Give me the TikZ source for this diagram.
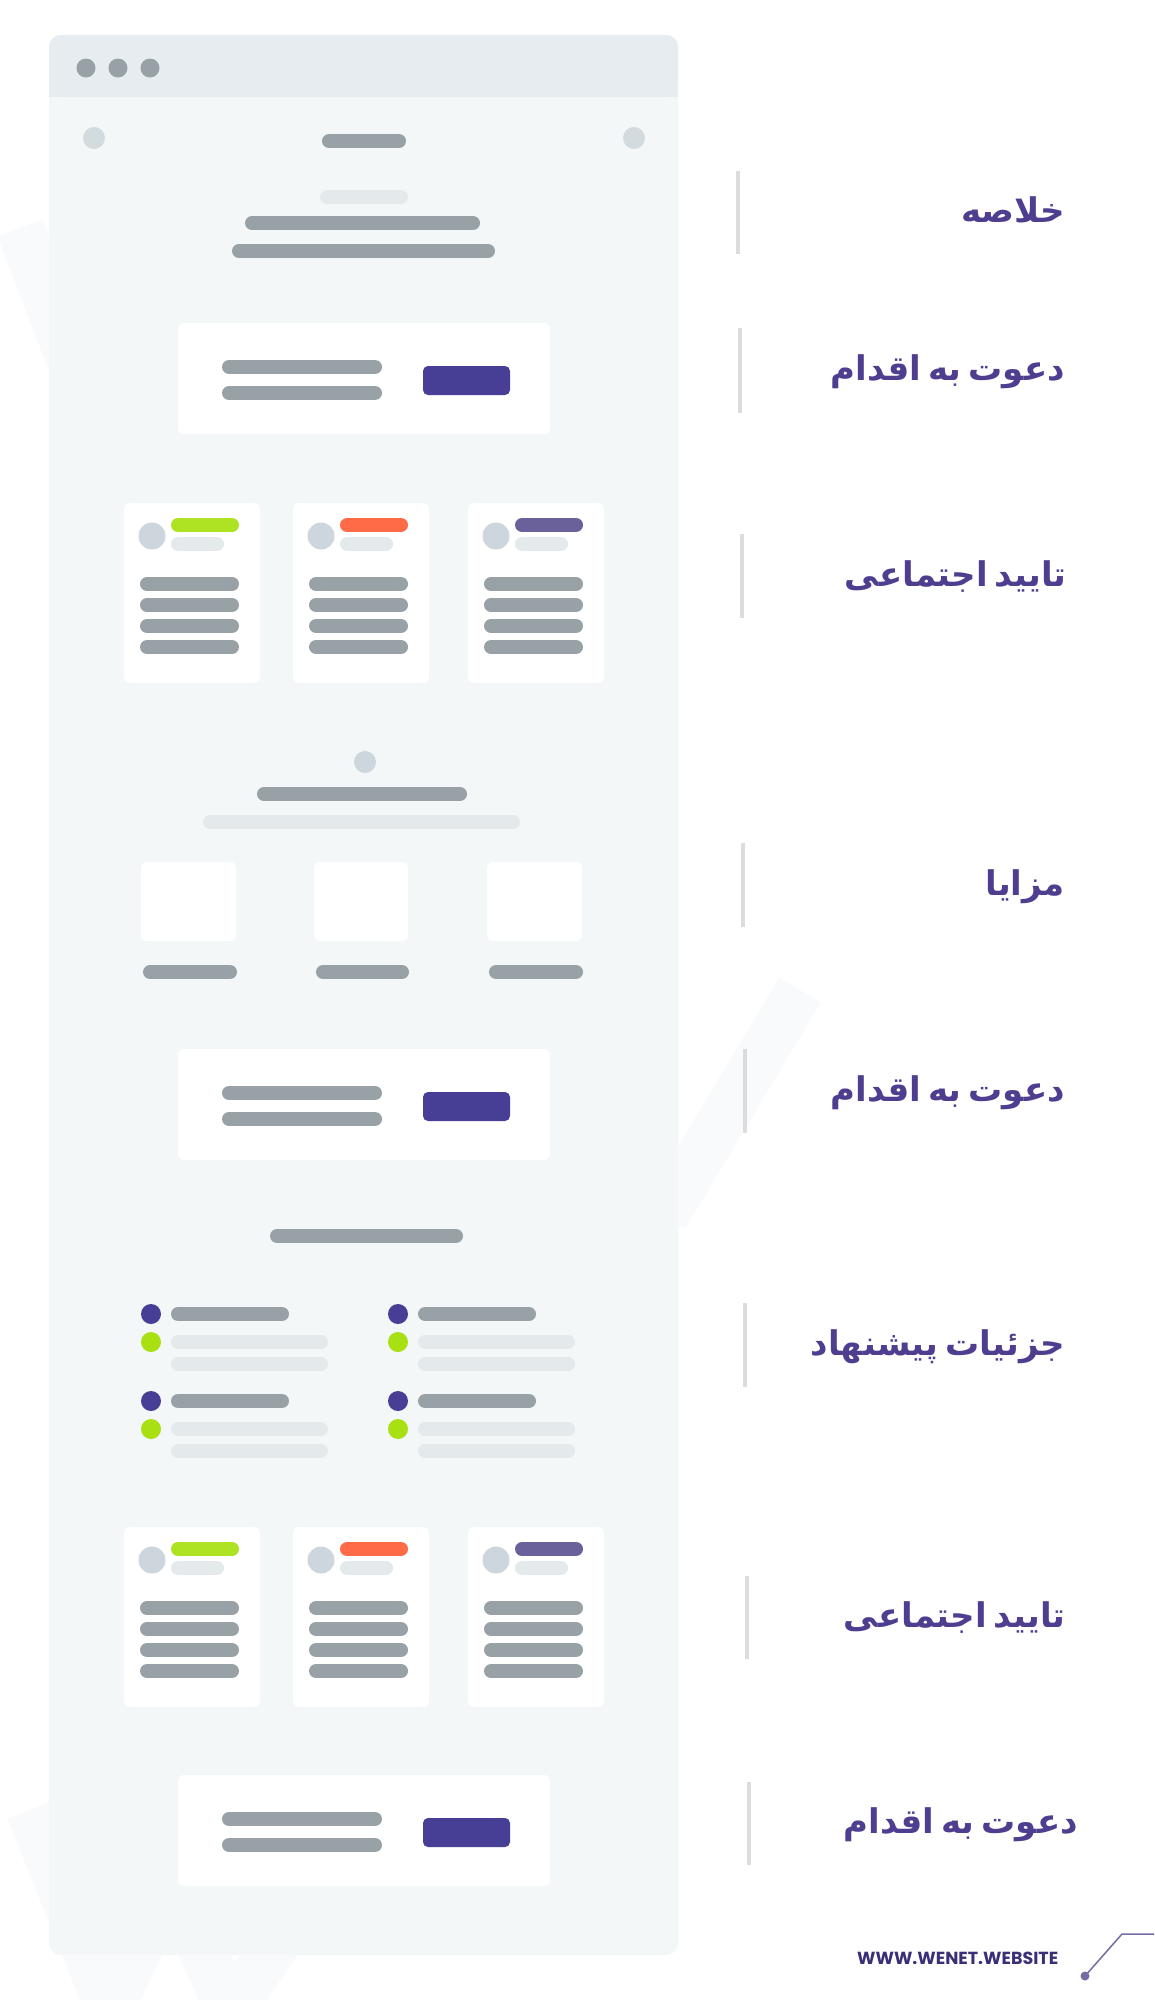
\documentclass[tikz,border=0pt]{standalone}
\usepackage{fontspec}
\TeXXeTstate=1
\newfontfamily\arabicfont[Script=Arabic,WordSpace=0.6]{DejaVu Sans}
\newfontfamily\popfont{Poppins}
\definecolor{winBg}{HTML}{F3F7F8}
\definecolor{winHead}{HTML}{E7ECF0}
\definecolor{barGrey}{HTML}{97A1A6}
\definecolor{barLight}{HTML}{E4E9EC}
\definecolor{avatarGrey}{HTML}{CDD6DD}
\definecolor{navGrey}{HTML}{D3DBDF}
\definecolor{btnPurple}{HTML}{473F96}
\definecolor{cGreen}{HTML}{ADE323}
\definecolor{cOrange}{HTML}{FF6B47}
\definecolor{cPurpleL}{HTML}{6A619B}
\definecolor{dotGreen}{HTML}{A8E011}
\definecolor{labPurple}{HTML}{4F3E8F}
\definecolor{sepGrey}{HTML}{DCDCDC}
\definecolor{logoPurple}{HTML}{3B2F78}
\definecolor{decoPurple}{HTML}{756CA6}
\definecolor{wmark}{HTML}{F9FAFB}
\begin{document}
\begin{tikzpicture}[x=1pt,y=-1pt,
  bar/.style={draw=barGrey, line width=14pt, line cap=round},
  lbar/.style={draw=barLight, line width=14pt, line cap=round},
  cardbox/.style={fill=white, rounded corners=6pt},
  sepline/.style={draw=sepGrey, line width=4.5pt},
  wm/.style={draw=wmark, line width=48pt, line join=bevel},
  label/.style={anchor=base east, text=labPurple, inner sep=0pt,
    font=\arabicfont\bfseries\fontsize{34}{42}\selectfont}]
\useasboundingbox (0,0) rectangle (1154,2000);
\fill[white] (0,0) rectangle (1154,2000);

% faint watermark shapes behind the window
\draw[wm] (20,228) -- (105,450) -- (160,300) -- (215,450) -- (300,228);
\draw[wm] (450,990) -- (545,1215) -- (605,1090) -- (665,1215) -- (800,990);
\draw[wm] (30,1810) -- (110,2010) -- (170,1880) -- (230,2010) -- (370,1810);

% browser window
\fill[winBg, rounded corners=12pt] (49,35) rectangle (678,1955);
\fill[winHead, rounded corners=12pt] (49,97) -- (49,35) -- (678,35) -- (678,97) -- cycle;
\fill[winHead] (49,80) rectangle (678,97);
\foreach \x in {86,118,150} \fill[barGrey] (\x,68) circle[radius=9.5pt];

% top nav
\fill[navGrey] (94,138) circle[radius=11pt];
\fill[navGrey] (634,138) circle[radius=11pt];
\draw[bar] (329,141) -- (399,141);
\draw[lbar] (327,197) -- (401,197);
\draw[bar] (252,223) -- (473,223);
\draw[bar] (239,251) -- (488,251);

% CTA cards
\foreach \y in {323,1049,1775}{
  \fill[cardbox] (178,\y) rectangle (550,\y+111);
  \draw[bar] (229,\y+44) -- (375,\y+44);
  \draw[bar] (229,\y+70) -- (375,\y+70);
  \fill[btnPurple, rounded corners=5pt] (423,\y+43) rectangle (510,\y+72);
}

% testimonial cards
\foreach \dy in {0,1024}{
  \foreach \dx/\col in {0/cGreen,169/cOrange,344/cPurpleL}{
    \begin{scope}[shift={(\dx,\dy)}]
      \fill[cardbox] (124,503) rectangle (260,683);
      \fill[avatarGrey] (152,536) circle[radius=13.5pt];
      \draw[bar, draw=\col] (178,525) -- (232,525);
      \draw[lbar] (178,544) -- (217,544);
      \foreach \yy in {584,605,626,647} \draw[bar] (147,\yy) -- (232,\yy);
    \end{scope}
  }
}

% benefits
\fill[avatarGrey] (365,762) circle[radius=11pt];
\draw[bar] (264,794) -- (460,794);
\draw[lbar] (210,822) -- (513,822);
\foreach \a/\b in {141/236,314/408,487/582}{
  \fill[cardbox] (\a,862) rectangle (\b,941);
  \draw[bar] (\a+9,972) -- (\b-6,972);
}

% bar before offer details
\draw[bar] (277,1236) -- (456,1236);

% offer details
\foreach \dx in {0,247}{
  \begin{scope}[shift={(\dx,0)}]
    \foreach \yy in {1314,1401}{
      \fill[btnPurple] (151,\yy) circle[radius=10pt];
      \fill[dotGreen] (151,\yy+28) circle[radius=10pt];
      \draw[bar] (178,\yy) -- (282,\yy);
      \draw[lbar] (178,\yy+28) -- (321,\yy+28);
      \draw[lbar] (178,\yy+50) -- (321,\yy+50);
    }
  \end{scope}
}

% labels with separators
\foreach \n/\x/\t/\b/\r/\txt in {
  a/738/171/254/1065/{خلاصه},
  b/740/328/413/1065/{دعوت به اقدام},
  c/742/534/618/1067/{تایید اجتماعی},
  d/743/843/927/1065/{مزایا},
  e/745/1049/1133/1065/{دعوت به اقدام},
  f/745/1303/1387/1065/{جزئیات پیشنهاد},
  g/747/1576/1659/1066/{تایید اجتماعی},
  h/749/1782/1865/1078/{دعوت به اقدام}}{
  \coordinate (s\n top) at (\x,\t);
  \coordinate (s\n bot) at (\x,\b);
  \draw[sepline] (s\n top) -- (s\n bot);
  \node[label] (l\n) at (\r,{(\t+\b)/2+10}) {\beginR\txt\endR};
}

% footer
\node[anchor=west, inner sep=0pt, text=logoPurple,
  font=\popfont\bfseries\fontsize{17.5}{20}\selectfont] (logo) at (857,1958) {WWW.WENET.WEBSITE};
\coordinate (decoA) at (1085,1976);
\coordinate (decoB) at (1122,1934);
\coordinate (decoC) at (1154,1934);
\draw[decoPurple, line width=1.5pt] (decoA) -- (decoB) -- (decoC);
\fill[decoPurple] (decoA) circle[radius=4.5pt];
\end{tikzpicture}
\end{document}
